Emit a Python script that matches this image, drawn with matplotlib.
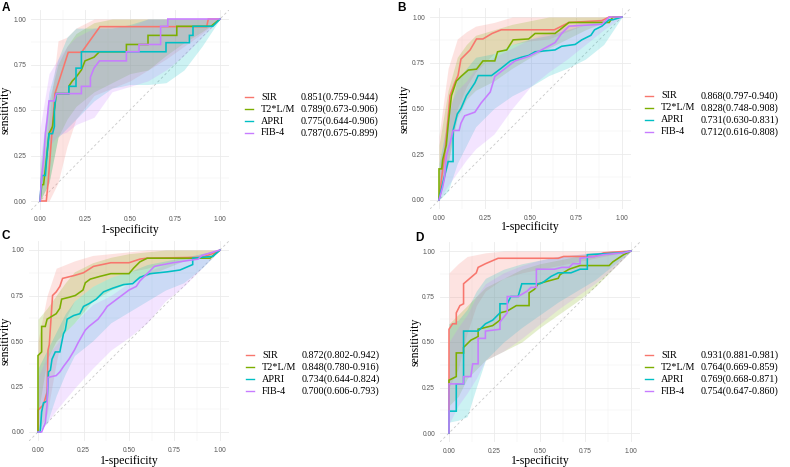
import numpy as np
import matplotlib.pyplot as plt

# ---- data: (1-specificity, sensitivity) vertices ----
A_SIR = [(0, 0), (0.035, 0), (0.045, 0.1), (0.083, 0.59), (0.157, 0.817), (0.231, 0.817),
         (0.333, 0.958), (0.926, 0.958), (0.935, 1), (1, 1)]
A_T2 = [(0, 0), (0.01, 0.09), (0.02, 0.09), (0.03, 0.18), (0.04, 0.27), (0.05, 0.37), (0.07, 0.41),
        (0.08, 0.5), (0.09, 0.59), (0.16, 0.59), (0.16, 0.63), (0.18, 0.66), (0.2, 0.68), (0.23, 0.72),
        (0.25, 0.77), (0.3, 0.79), (0.33, 0.82), (0.48, 0.82), (0.48, 0.86), (0.6, 0.86), (0.6, 0.91),
        (0.76, 0.91), (0.76, 0.96), (0.95, 0.96), (1, 1)]
A_APRI = [(0, 0), (0.01, 0.14), (0.03, 0.14), (0.04, 0.27), (0.05, 0.37), (0.07, 0.37), (0.08, 0.41),
          (0.08, 0.5), (0.09, 0.59), (0.16, 0.59), (0.16, 0.63), (0.2, 0.63), (0.2, 0.73), (0.23, 0.73),
          (0.23, 0.82), (0.7, 0.82), (0.7, 0.87), (0.83, 0.87), (0.83, 0.91), (0.85, 0.91),
          (0.85, 0.96), (0.96, 0.96), (1, 1)]
A_FIB = [(0, 0), (0.01, 0.14), (0.02, 0.23), (0.03, 0.37), (0.04, 0.45), (0.05, 0.55), (0.08, 0.55),
         (0.09, 0.59), (0.23, 0.59), (0.23, 0.63), (0.28, 0.63), (0.28, 0.68), (0.3, 0.73), (0.33, 0.77),
         (0.48, 0.77), (0.48, 0.82), (0.55, 0.82), (0.55, 0.86), (0.67, 0.86), (0.67, 0.96),
         (0.71, 0.96), (0.71, 1), (1, 1)]

B_SIR = [(0, 0), (0.013, 0.11), (0.03, 0.24), (0.05, 0.45), (0.06, 0.57), (0.086, 0.64), (0.104, 0.68),
         (0.12, 0.77), (0.17, 0.82), (0.205, 0.88), (0.24, 0.88), (0.29, 0.91), (0.34, 0.93), (0.63, 0.93),
         (0.67, 0.95), (0.71, 0.97), (0.89, 0.98), (0.93, 1), (1, 1)]
B_T2 = [(0, 0), (0, 0.17), (0.015, 0.17), (0.02, 0.22), (0.04, 0.3), (0.05, 0.41), (0.06, 0.5),
        (0.068, 0.57), (0.095, 0.65), (0.12, 0.675), (0.16, 0.71), (0.205, 0.715), (0.24, 0.76),
        (0.305, 0.76), (0.32, 0.81), (0.37, 0.82), (0.405, 0.875), (0.49, 0.88), (0.525, 0.91),
        (0.634, 0.91), (0.66, 0.93), (0.71, 0.97), (0.93, 0.97), (0.95, 1), (1, 1)]
B_APRI = [(0, 0), (0.013, 0.06), (0.03, 0.13), (0.05, 0.21), (0.077, 0.21), (0.077, 0.38), (0.1, 0.47),
          (0.12, 0.5), (0.15, 0.57), (0.196, 0.64), (0.214, 0.68), (0.287, 0.68), (0.34, 0.72),
          (0.39, 0.76), (0.45, 0.78), (0.49, 0.79), (0.525, 0.81), (0.634, 0.82), (0.67, 0.84),
          (0.744, 0.85), (0.78, 0.875), (0.83, 0.9), (0.85, 0.93), (0.89, 0.95), (0.93, 0.985),
          (0.95, 0.985), (1, 1)]
B_FIB = [(0, 0), (0.02, 0.07), (0.03, 0.12), (0.04, 0.24), (0.06, 0.31), (0.077, 0.38), (0.11, 0.38),
         (0.12, 0.42), (0.14, 0.46), (0.196, 0.48), (0.23, 0.53), (0.28, 0.59), (0.305, 0.675),
         (0.35, 0.71), (0.415, 0.76), (0.49, 0.785), (0.56, 0.82), (0.634, 0.86), (0.67, 0.91),
         (0.71, 0.95), (0.89, 0.96), (0.93, 1), (1, 1)]

C_SIR = [(0, 0), (0, 0.12), (0.03, 0.15), (0.05, 0.22), (0.055, 0.45), (0.062, 0.48), (0.08, 0.75),
         (0.1, 0.77), (0.12, 0.8), (0.135, 0.844), (0.2, 0.86), (0.25, 0.875), (0.305, 0.91), (0.4, 0.93),
         (0.5, 0.93), (0.56, 0.95), (0.6, 0.955), (0.9, 0.96), (0.96, 0.98), (1, 1)]
C_T2 = [(0, 0), (0, 0.42), (0.02, 0.44), (0.02, 0.58), (0.04, 0.58), (0.05, 0.62), (0.1, 0.65),
        (0.12, 0.68), (0.13, 0.73), (0.17, 0.74), (0.205, 0.75), (0.247, 0.78), (0.26, 0.82),
        (0.287, 0.84), (0.34, 0.855), (0.4, 0.87), (0.5, 0.87), (0.525, 0.9), (0.56, 0.935),
        (0.6, 0.955), (0.945, 0.955), (1, 1)]
C_APRI = [(0, 0), (0.012, 0), (0.02, 0.11), (0.03, 0.16), (0.05, 0.17), (0.058, 0.33), (0.068, 0.34),
          (0.077, 0.4), (0.095, 0.44), (0.12, 0.44), (0.14, 0.54), (0.15, 0.56), (0.16, 0.62),
          (0.196, 0.64), (0.23, 0.65), (0.25, 0.69), (0.28, 0.705), (0.32, 0.73), (0.36, 0.77),
          (0.41, 0.79), (0.47, 0.81), (0.52, 0.815), (0.56, 0.85), (0.616, 0.87), (0.71, 0.88),
          (0.78, 0.89), (0.85, 0.92), (0.85, 0.955), (0.96, 0.965), (1, 1)]
C_FIB = [(0, 0), (0.02, 0), (0.04, 0.05), (0.05, 0.15), (0.055, 0.3), (0.1, 0.31), (0.12, 0.33),
         (0.14, 0.36), (0.17, 0.4), (0.2, 0.45), (0.22, 0.49), (0.26, 0.56), (0.28, 0.58), (0.33, 0.62),
         (0.36, 0.66), (0.38, 0.69), (0.42, 0.72), (0.46, 0.75), (0.5, 0.78), (0.54, 0.8), (0.56, 0.83),
         (0.6, 0.87), (0.64, 0.91), (0.69, 0.92), (0.74, 0.93), (0.88, 0.95), (0.9, 0.97), (1, 1)]

D_SIR = [(0, 0), (0, 0.57), (0.02, 0.6), (0.04, 0.6), (0.04, 0.66), (0.06, 0.7), (0.08, 0.71),
         (0.08, 0.82), (0.15, 0.88), (0.16, 0.91), (0.2, 0.93), (0.27, 0.96), (0.6, 0.96), (0.63, 0.97),
         (0.8, 0.97), (0.85, 0.99), (1, 1)]
D_T2 = [(0, 0), (0, 0.29), (0.04, 0.31), (0.04, 0.44), (0.08, 0.44), (0.08, 0.47), (0.12, 0.51),
        (0.16, 0.53), (0.16, 0.57), (0.2, 0.58), (0.24, 0.59), (0.28, 0.62), (0.28, 0.66), (0.32, 0.67),
        (0.37, 0.7), (0.44, 0.7), (0.44, 0.77), (0.47, 0.79), (0.49, 0.82), (0.6, 0.85), (0.61, 0.87),
        (0.66, 0.9), (0.72, 0.92), (0.88, 0.92), (0.9, 0.94), (0.96, 0.98), (1, 1)]
D_APRI = [(0, 0), (0, 0.12), (0.04, 0.12), (0.04, 0.27), (0.08, 0.27), (0.08, 0.56), (0.16, 0.56),
          (0.2, 0.6), (0.24, 0.62), (0.28, 0.66), (0.28, 0.71), (0.32, 0.71), (0.34, 0.75), (0.38, 0.75),
          (0.4, 0.82), (0.5, 0.82), (0.52, 0.83), (0.56, 0.86), (0.6, 0.88), (0.67, 0.88), (0.72, 0.9),
          (0.76, 0.9), (0.76, 0.98), (0.95, 0.99), (1, 1)]
D_FIB = [(0, 0), (0, 0.27), (0.08, 0.27), (0.08, 0.31), (0.12, 0.31), (0.13, 0.38), (0.16, 0.38),
         (0.16, 0.52), (0.2, 0.52), (0.2, 0.56), (0.28, 0.57), (0.28, 0.61), (0.32, 0.66), (0.32, 0.75),
         (0.38, 0.75), (0.43, 0.78), (0.45, 0.8), (0.48, 0.8), (0.48, 0.9), (0.58, 0.9), (0.62, 0.91),
         (0.66, 0.91), (0.68, 0.93), (0.72, 0.93), (0.72, 0.96), (0.8, 0.97), (0.85, 0.98),
         (0.96, 0.99), (1, 1)]

# confidence bands of sensitivity on a 1-specificity grid
CI_X = [0, 0.05, 0.1, 0.15, 0.2, 0.3, 0.4, 0.5, 0.6, 0.7, 0.8, 0.9, 1]

A_SIR_LO = [0, 0, 0.1, 0.3, 0.45, 0.58, 0.62, 0.66, 0.72, 0.78, 0.85, 0.92, 1]
A_SIR_HI = [0.05, 0.45, 0.88, 0.9, 0.95, 1, 1, 1, 1, 1, 1, 1, 1]
A_T2_LO = [0, 0.1, 0.35, 0.45, 0.52, 0.6, 0.65, 0.7, 0.72, 0.8, 0.87, 0.93, 1]
A_T2_HI = [0.15, 0.55, 0.75, 0.85, 0.92, 0.98, 1, 1, 1, 1, 1, 1, 1]
A_APRI_LO = [0, 0.1, 0.35, 0.4, 0.45, 0.55, 0.62, 0.64, 0.64, 0.65, 0.72, 0.85, 1]
A_APRI_HI = [0.2, 0.6, 0.78, 0.9, 0.95, 0.95, 0.95, 0.97, 1, 1, 1, 1, 1]
A_FIB_LO = [0.05, 0.3, 0.36, 0.38, 0.42, 0.46, 0.6, 0.63, 0.66, 0.72, 0.8, 0.9, 1]
A_FIB_HI = [0.4, 0.7, 0.78, 0.85, 0.9, 0.95, 0.96, 0.96, 1, 1, 1, 1, 1]

B_SIR_LO = [0, 0.2, 0.5, 0.62, 0.7, 0.8, 0.85, 0.87, 0.88, 0.92, 0.96, 0.98, 1]
B_SIR_HI = [0.35, 0.72, 0.88, 0.92, 0.95, 0.97, 1, 1, 1, 1, 1, 1, 1]
B_T2_LO = [0, 0.2, 0.45, 0.55, 0.6, 0.65, 0.72, 0.78, 0.83, 0.88, 0.93, 0.97, 1]
B_T2_HI = [0.3, 0.6, 0.78, 0.85, 0.9, 0.93, 0.96, 0.98, 1, 1, 1, 1, 1]
B_APRI_LO = [0, 0.05, 0.2, 0.3, 0.4, 0.5, 0.57, 0.62, 0.68, 0.72, 0.77, 0.85, 1]
B_APRI_HI = [0.2, 0.45, 0.66, 0.72, 0.78, 0.8, 0.85, 0.88, 0.9, 0.93, 0.96, 0.98, 1]
B_FIB_LO = [0, 0.08, 0.15, 0.22, 0.28, 0.36, 0.5, 0.62, 0.7, 0.77, 0.85, 0.93, 1]
B_FIB_HI = [0.15, 0.5, 0.6, 0.65, 0.72, 0.78, 0.83, 0.88, 0.92, 0.95, 0.98, 0.99, 1]

C_SIR_LO = [0, 0.1, 0.38, 0.62, 0.72, 0.8, 0.85, 0.88, 0.9, 0.93, 0.95, 0.97, 1]
C_SIR_HI = [0.5, 0.75, 0.9, 0.92, 0.94, 0.97, 0.98, 0.99, 1, 1, 1, 1, 1]
C_T2_LO = [0.1, 0.4, 0.5, 0.55, 0.6, 0.72, 0.78, 0.82, 0.86, 0.9, 0.94, 0.97, 1]
C_T2_HI = [0.62, 0.68, 0.75, 0.82, 0.88, 0.93, 0.96, 0.98, 0.99, 1, 1, 1, 1]
C_APRI_LO = [0, 0.05, 0.2, 0.32, 0.42, 0.5, 0.6, 0.66, 0.72, 0.78, 0.82, 0.9, 1]
C_APRI_HI = [0.35, 0.45, 0.55, 0.65, 0.72, 0.8, 0.85, 0.88, 0.92, 0.94, 0.96, 0.98, 1]
C_FIB_LO = [0, 0.05, 0.12, 0.18, 0.24, 0.35, 0.45, 0.52, 0.6, 0.72, 0.8, 0.9, 1]
C_FIB_HI = [0.3, 0.42, 0.48, 0.55, 0.6, 0.7, 0.75, 0.82, 0.88, 0.92, 0.95, 0.98, 1]

D_SIR_LO = [0.25, 0.35, 0.55, 0.7, 0.78, 0.85, 0.88, 0.9, 0.92, 0.94, 0.96, 0.98, 1]
D_SIR_HI = [0.88, 0.93, 0.97, 0.98, 0.99, 1, 1, 1, 1, 1, 1, 1, 1]
D_T2_LO = [0.15, 0.2, 0.3, 0.35, 0.4, 0.45, 0.5, 0.58, 0.65, 0.72, 0.8, 0.9, 1]
D_T2_HI = [0.6, 0.65, 0.7, 0.75, 0.8, 0.85, 0.9, 0.93, 0.95, 0.97, 0.98, 0.99, 1]
D_APRI_LO = [0.06, 0.07, 0.09, 0.25, 0.4, 0.5, 0.58, 0.65, 0.72, 0.78, 0.84, 0.92, 1]
D_APRI_HI = [0.6, 0.62, 0.68, 0.78, 0.85, 0.9, 0.93, 0.95, 0.97, 0.98, 0.99, 1, 1]
D_FIB_LO = [0.05, 0.15, 0.22, 0.3, 0.4, 0.45, 0.52, 0.6, 0.68, 0.75, 0.82, 0.9, 1]
D_FIB_HI = [0.5, 0.58, 0.65, 0.75, 0.82, 0.88, 0.92, 0.95, 0.97, 0.98, 0.99, 1, 1]

NAMES = ["SIR", "T2*L/M", "APRI", "FIB-4"]
AUC_A = ["0.851(0.759-0.944)", "0.789(0.673-0.906)", "0.775(0.644-0.906)", "0.787(0.675-0.899)"]
AUC_B = ["0.868(0.797-0.940)", "0.828(0.748-0.908)", "0.731(0.630-0.831)", "0.712(0.616-0.808)"]
AUC_C = ["0.872(0.802-0.942)", "0.848(0.780-0.916)", "0.734(0.644-0.824)", "0.700(0.606-0.793)"]
AUC_D = ["0.931(0.881-0.981)", "0.764(0.669-0.859)", "0.769(0.668-0.871)", "0.754(0.647-0.860)"]
TICKS = [0, 0.25, 0.5, 0.75, 1]
TICK_LABELS = ["0.00", "0.25", "0.50", "0.75", "1.00"]

COLORS = ["#F8766D", "#7CAE00", "#00BFC4", "#C77CFF"]
SERIF = "Liberation Serif"
SANS = "Liberation Sans"

W, H = 790, 467
fig = plt.figure(figsize=(W / 100, H / 100), dpi=100)


def fx(x):
    return x / W


def fy(y):
    return 1 - y / H


def panel(x0, x1, y0, y1, curves, bands, aucs, letter, letter_xy, ylab_x, xlab_y, leg_x, leg_y):
    sx, sy = x1 - x0, y0 - y1
    left, right = x0 - 0.05 * sx, x1 + 0.05 * sx
    top, bottom = y1 - 0.05 * sy, y0 + 0.05 * sy
    ax = fig.add_axes([fx(left), fy(bottom), (right - left) / W, (bottom - top) / H])
    ax.set_xlim(-0.05, 1.05)
    ax.set_ylim(-0.05, 1.05)
    for s in ax.spines.values():
        s.set_visible(False)
    ax.set_xticks(TICKS)
    ax.set_xticklabels(TICK_LABELS)
    ax.set_yticks(TICKS)
    ax.set_yticklabels(TICK_LABELS)
    ax.set_xticks([0.125, 0.375, 0.625, 0.875], minor=True)
    ax.set_yticks([0.125, 0.375, 0.625, 0.875], minor=True)
    ax.tick_params(which="both", length=0, labelsize=4.8, labelcolor="#555555")
    ax.tick_params(axis="x", pad=4.5)
    ax.tick_params(axis="y", pad=3.5)
    for lab in ax.get_xticklabels() + ax.get_yticklabels():
        lab.set_fontfamily(SANS)
    ax.grid(True, which="major", color="#EBEBEB", lw=0.6)
    ax.grid(True, which="minor", color="#F2F2F2", lw=0.35)
    ax.set_axisbelow(True)
    ax.plot([-0.05, 1.05], [-0.05, 1.05], ls=(0, (3, 3)), color="#C8C8C8", lw=0.6, zorder=1)

    for (lo, hi), c in zip(bands, COLORS):
        ax.fill_between(CI_X, lo, hi, color=c, alpha=0.2, lw=0, zorder=2)
    for pts, c in zip(curves, COLORS):
        xs, ys = zip(*pts)
        ax.plot(xs, ys, color=c, lw=1.15, zorder=3, solid_joinstyle="miter")

    fig.text(fx(letter_xy[0]), fy(letter_xy[1]), letter, fontsize=8.5, fontweight="bold",
             family=SANS, ha="left", va="center")
    fig.text(fx(ylab_x), fy((y0 + y1) / 2), "sensitivity", rotation=90, fontsize=8.5,
             family=SERIF, ha="center", va="center")
    fig.text(fx((x0 + x1) / 2), fy(xlab_y), "1-specificity", fontsize=8.5,
             family=SERIF, ha="center", va="center")

    for i, (name, auc, c) in enumerate(zip(NAMES, aucs, COLORS)):
        yy = fy(leg_y + i * 12)
        fig.add_artist(plt.Line2D([fx(leg_x), fx(leg_x + 8)], [yy, yy], color=c, lw=1.0))
        fig.text(fx(leg_x + 16), yy, name, fontsize=7.3, family=SERIF, ha="left", va="center")
        fig.text(fx(leg_x + 56), yy, auc, fontsize=7.3, family=SERIF, ha="left", va="center")
    return ax


def pack(*c):
    return list(c)


panel(40, 220, 201, 19,
      pack(A_SIR, A_T2, A_APRI, A_FIB),
      pack((A_SIR_LO, A_SIR_HI), (A_T2_LO, A_T2_HI), (A_APRI_LO, A_APRI_HI), (A_FIB_LO, A_FIB_HI)),
      AUC_A, "A", (2, 8), 6, 230, 245, 97)
panel(439, 622, 200, 17,
      pack(B_SIR, B_T2, B_APRI, B_FIB),
      pack((B_SIR_LO, B_SIR_HI), (B_T2_LO, B_T2_HI), (B_APRI_LO, B_APRI_HI), (B_FIB_LO, B_FIB_HI)),
      AUC_B, "B", (397, 8), 405, 227, 645, 96)
panel(38, 220, 432, 250,
      pack(C_SIR, C_T2, C_APRI, C_FIB),
      pack((C_SIR_LO, C_SIR_HI), (C_T2_LO, C_T2_HI), (C_APRI_LO, C_APRI_HI), (C_FIB_LO, C_FIB_HI)),
      AUC_C, "C", (2, 236), 6, 461, 246, 355)
panel(449, 631, 433, 251,
      pack(D_SIR, D_T2, D_APRI, D_FIB),
      pack((D_SIR_LO, D_SIR_HI), (D_T2_LO, D_T2_HI), (D_APRI_LO, D_APRI_HI), (D_FIB_LO, D_FIB_HI)),
      AUC_D, "D", (415, 238), 415, 461, 645, 355)

fig.savefig("out.png", dpi=100)
